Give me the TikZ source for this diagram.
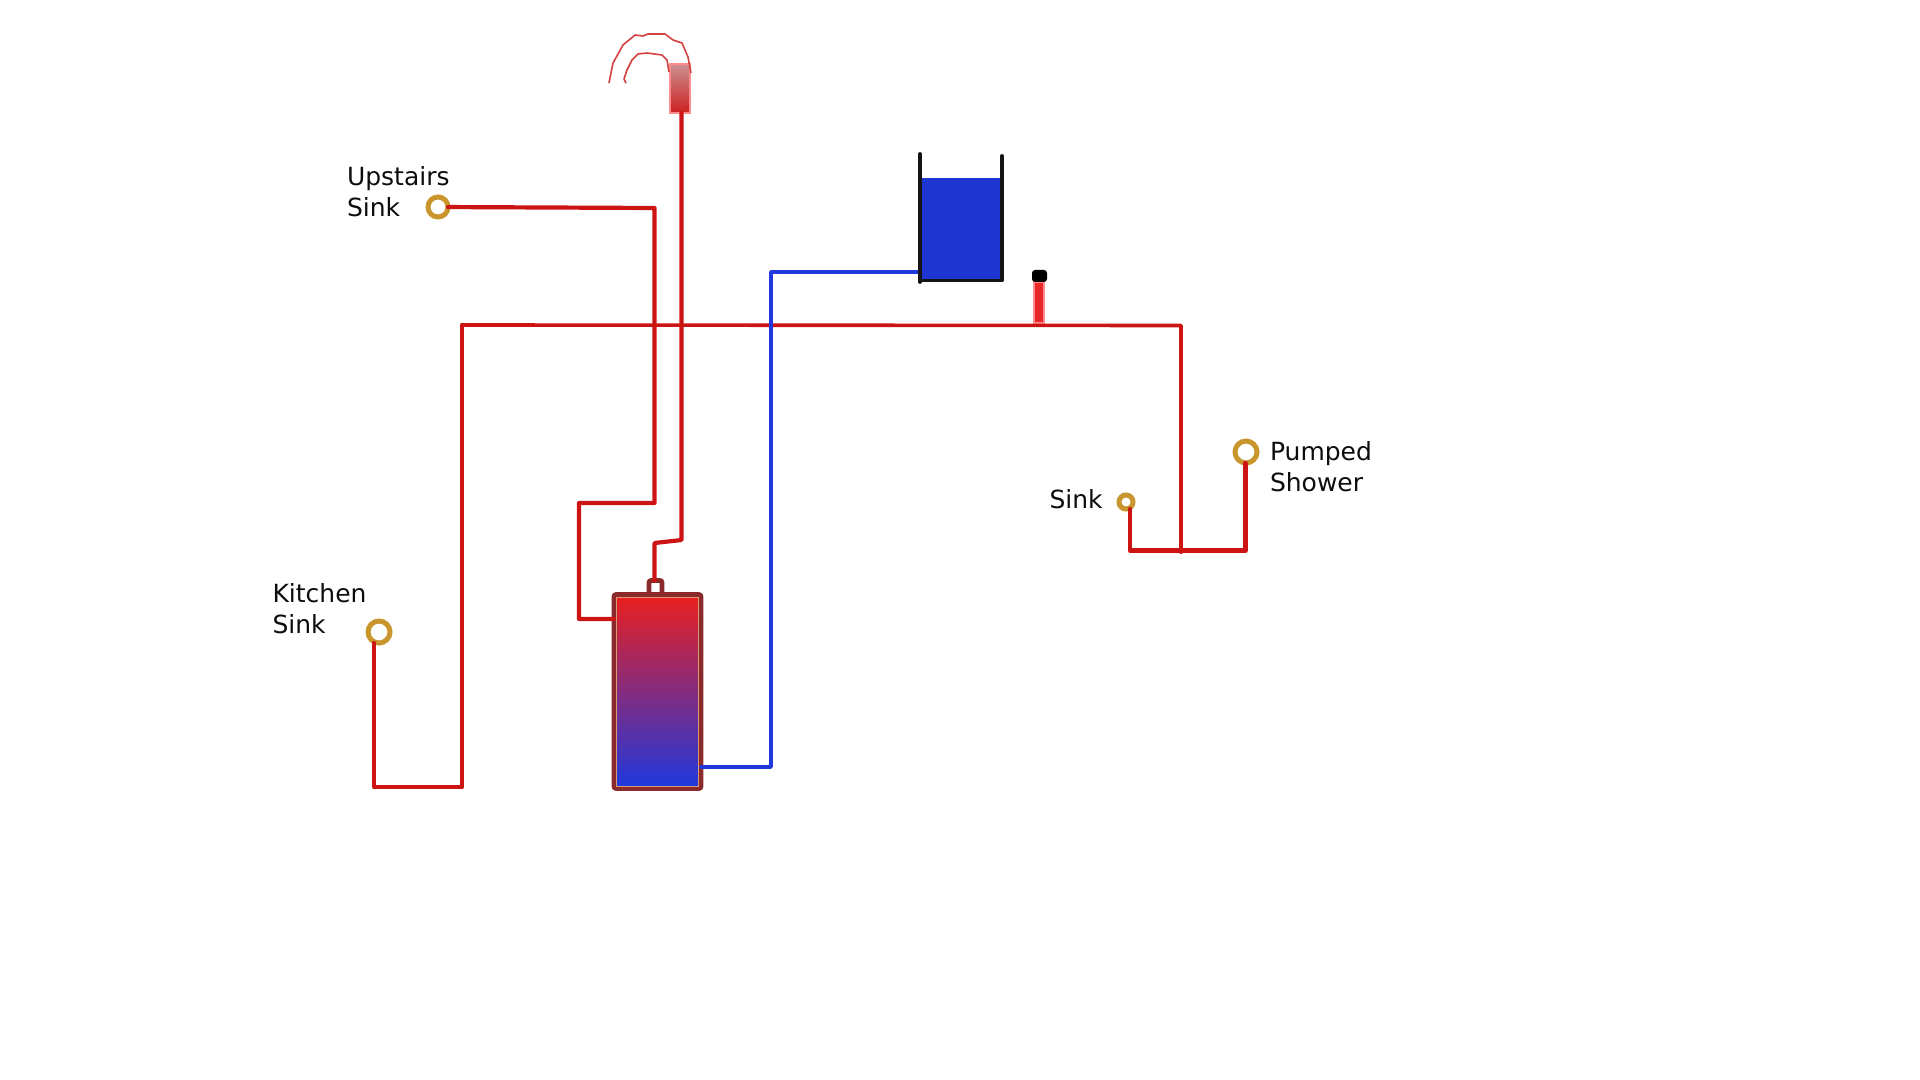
\documentclass[tikz,border=0pt]{standalone}
\usepackage{fontspec}
\setmainfont{DejaVu Sans}
\usetikzlibrary{positioning}
\definecolor{hotred}{HTML}{CC1414}
\definecolor{coldblue}{HTML}{2038DC}
\definecolor{tapgold}{HTML}{C8962C}
\definecolor{cylbrown}{HTML}{8B2A2A}
\definecolor{cyltop}{HTML}{E82020}
\definecolor{headtop}{HTML}{CC9090}
\definecolor{headbot}{HTML}{CC2020}
\definecolor{ventred}{HTML}{E82828}
\begin{document}
\begin{tikzpicture}[
      x=0.5pt, y=-0.5pt,
      every node/.append style={inner sep=0pt, outer sep=0pt},
      txt/.style={anchor=north west, align=left, font=\fontsize{12.5}{15.5}\selectfont, text=black!95},
      tap/.style={circle, draw=tapgold, line width=2.5pt, fill=white},
      hot/.style={draw=hotred, line width=2.1pt, line cap=round, line join=round},
      thinhot/.style={hot, line width=1.8pt},
      cold/.style={draw=coldblue, line width=1.9pt, line cap=round, line join=round},
      tankwall/.style={draw=black!92, line width=1.9pt, line cap=round, line join=round},
      spout/.style={draw=headbot!85, line width=0.8pt, line join=round},
    ]
      \useasboundingbox (0,0) rectangle (1920,1080);
      \node[draw=cylbrown, line width=2.3pt, rounded corners=1pt, fill=white,
            minimum width=6.5pt, minimum height=7pt] (port) at (655.5,587.5) {};
      \node[draw=cylbrown, line width=2.3pt, rounded corners=1pt, fill=white,
            minimum width=43.5pt, minimum height=97pt] (cylinder) at (657.5,691.5) {};
      \node[draw=brown!60!pink, line width=0.4pt, top color=cyltop, bottom color=coldblue,
            minimum width=41pt, minimum height=94.5pt] (cylfill) at (657.5,691.5) {};
      \node[top color=headtop, bottom color=headbot, draw=red!45, line width=0.6pt,
            minimum width=10pt, minimum height=24.5pt] (head) at (680,88.5) {};
      \node[fill=coldblue!95!black, minimum width=39pt, minimum height=50.5pt] (water) at (961,228.5) {};
      \node[fill=ventred, draw=red!45, line width=0.6pt,
            minimum width=5pt, minimum height=20.5pt] (vent) at (1039,302.5) {};
      \node[fill=black, rounded corners=1.5pt, minimum width=7.5pt, minimum height=6pt] (cap) at (1039.5,276) {};

      \node[tap, minimum size=10pt] (upstairs) at (438,207) {};
      \node[tap, minimum size=11pt] (kitchen) at (379,632) {};
      \node[tap, minimum size=7pt] (sinktap) at (1126,502) {};
      \node[tap, minimum size=11pt] (shower) at (1246,452) {};

      \node[txt] (upstairslbl) at (347,166.5) {Upstairs\\Sink};
      \node[txt] (kitchenlbl) at (272.5,583.5) {Kitchen\\Sink};
      \node[txt] (sinklbl) at (1049.5,490) {Sink};
      \node[txt] (showerlbl) at (1270,441.5) {Pumped\\Shower};

      \coordinate (feedtop) at (654.5,208);
      \coordinate (feedmid) at (654.5,503);
      \coordinate (loopa) at (579,503);
      \coordinate (loopb) at (579,619);
      \coordinate (mixa) at (681.5,113);
      \coordinate (mixb) at (681.5,540);
      \coordinate (mixc) at (654.5,543);
      \coordinate (maina) at (462,325);
      \coordinate (mainb) at (1181,325.5);
      \coordinate (mainc) at (1181,435);
      \coordinate (maind) at (1181,552);
      \coordinate (maine) at (462,787);
      \coordinate (mainf) at (374,787);
      \coordinate (branchl) at (1130,550.5);
      \coordinate (branchr) at (1245.5,550.5);
      \coordinate (coldc) at (771,767);
      \coordinate (coldd) at (771,272);
      \coordinate (colde) at (920,272);

      \draw[hot] (upstairs) -- (feedtop) -- (feedmid) -- (loopa) -- (loopb) -- (cylinder.west |- loopb);
      \draw[hot] (mixa) -- (mixb) -- (mixc) -- (port.north -| mixc);
      \draw[thinhot] (maina) -- (mainb) -- (mainc);
      \draw[hot] (maina) -- (maine) -- (mainf) -- (kitchen.south -| mainf);
      \draw[hot] (mainc) -- (maind);
      \draw[hot] (sinktap.south -| branchl) -- (branchl) -- (branchr) -- (shower.south -| branchr);

      \draw[cold] (cylinder.east |- coldc) -- (coldc) -- (coldd) -- (colde);

      \draw[tankwall] (920,154) -- (920,282);
      \draw[tankwall] (920,280.5) -- (1002,280.5) -- (1002,156);

      \draw[spout] (609,83) -- (613,63) -- (623,45) -- (635,35) -- (643,36) -- (648,34) -- (665,34)
                   -- (673,40) -- (682,43) -- (688,57) -- (691,73);
      \draw[spout] (626,83) -- (624,79) -- (627,70) -- (632,60) -- (638,54) -- (647,53) -- (662,55)
                   -- (667,60) -- (669,72);
\end{tikzpicture}
\end{document}
